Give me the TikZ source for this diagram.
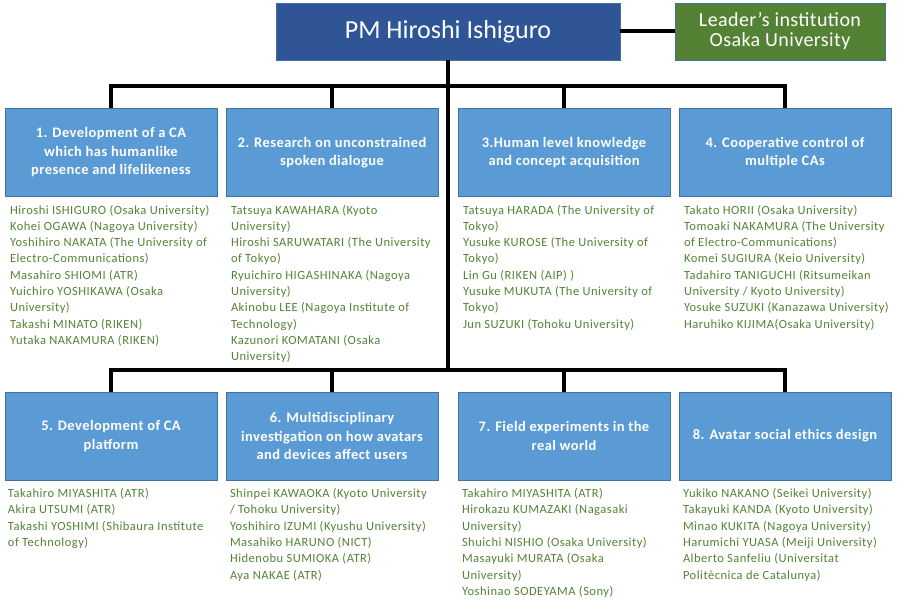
\documentclass[tikz,border=0pt]{standalone}
\usepackage{fontspec}
\setmainfont{Carlito}
\newfontfamily\memfont[LetterSpace=4]{Carlito}
\newfontfamily\grpfont[LetterSpace=3]{Carlito}
\newfontfamily\instfont[LetterSpace=2]{Carlito}
\usetikzlibrary{positioning}
\definecolor{pmclr}{RGB}{47,85,151}
\definecolor{instclr}{RGB}{84,130,53}
\definecolor{grpclr}{RGB}{91,155,213}
\definecolor{grpline}{RGB}{65,113,156}
\definecolor{memclr}{RGB}{84,130,53}
\tikzset{
  pm/.style={rectangle,draw=grpline,fill=pmclr,text=white,
             minimum width=344pt,minimum height=57pt,
             font=\fontsize{26}{28}\selectfont},
  inst/.style={rectangle,draw=grpline,fill=instclr,text=white,align=center,
               minimum width=210pt,minimum height=57pt,inner sep=1pt,
               font=\instfont\fontsize{20}{20}\selectfont},
  grp/.style={rectangle,draw=grpline,fill=grpclr,text=white,align=center,
              minimum width=212pt,minimum height=88pt,inner sep=1pt,
              font=\grpfont\bfseries\fontsize{14.5}{18.5}\selectfont},
  mem/.style={align=left,text=memclr,inner sep=0pt,
              font=\memfont\fontsize{12.5}{16.3}\selectfont},
  link/.style={line width=4pt,black},
}

\begin{document}
\begin{tikzpicture}[x=1pt, y=-1pt]
\useasboundingbox (0,0) rectangle (900,609);

% Head and institution
\node[pm]   (pm)   at (448,31.5) {PM Hiroshi Ishiguro};
\node[inst] (inst) at (780,31.5) {Leader’s institution\\Osaka University};

% Research groups, upper row
\node[grp] (g1) at (111,152.5) {1. Development of a CA\\which has humanlike\\presence and lifelikeness};
\node[grp] (g2) at (332,152.5) {2. Research on unconstrained\\spoken dialogue};
\node[grp] (g3) at (564,152.5) {3.Human level knowledge\\and concept acquisition};
\node[grp] (g4) at (785,152.5) {4. Cooperative control of\\multiple CAs};

% Research groups, lower row
\node[grp] (g5) at (111,436) {5. Development of CA\\platform};
\node[grp] (g6) at (332,436) {6. Multidisciplinary\\investigation on how avatars\\and devices affect users};
\node[grp] (g7) at (564,436) {7. Field experiments in the\\real world};
\node[grp] (g8) at (785,436) {8. Avatar social ethics design};

% Members
\node[mem, below right=8pt and 5pt of g1.south west] (m1) {Hiroshi ISHIGURO (Osaka University)\\Kohei OGAWA (Nagoya University)\\Yoshihiro NAKATA (The University of\\Electro-Communications)\\Masahiro SHIOMI (ATR)\\Yuichiro YOSHIKAWA (Osaka\\University)\\Takashi MINATO (RIKEN)\\Yutaka NAKAMURA (RIKEN)};
\node[mem, below right=8pt and 5pt of g2.south west] (m2) {Tatsuya KAWAHARA (Kyoto\\University)\\Hiroshi SARUWATARI (The University\\of Tokyo)\\Ryuichiro HIGASHINAKA (Nagoya\\University)\\Akinobu LEE (Nagoya Institute of\\Technology)\\Kazunori KOMATANI (Osaka\\University)};
\node[mem, below right=8pt and 5pt of g3.south west] (m3) {Tatsuya HARADA (The University of\\Tokyo)\\Yusuke KUROSE (The University of\\Tokyo)\\Lin Gu (RIKEN (AIP) )\\Yusuke MUKUTA (The University of\\Tokyo)\\Jun SUZUKI (Tohoku University)};
\node[mem, below right=8pt and 5pt of g4.south west] (m4) {Takato HORII (Osaka University)\\Tomoaki NAKAMURA (The University\\of Electro-Communications)\\Komei SUGIURA (Keio University)\\Tadahiro TANIGUCHI (Ritsumeikan\\University / Kyoto University)\\Yosuke SUZUKI (Kanazawa University)\\Haruhiko KIJIMA(Osaka University)};
\node[mem, below right=8pt and 3pt of g5.south west] (m5) {Takahiro MIYASHITA (ATR)\\Akira UTSUMI (ATR)\\Takashi YOSHIMI (Shibaura Institute\\of Technology)};
\node[mem, below right=8pt and 4pt of g6.south west] (m6) {Shinpei KAWAOKA (Kyoto University\\/ Tohoku University)\\Yoshihiro IZUMI (Kyushu University)\\Masahiko HARUNO (NICT)\\Hidenobu SUMIOKA (ATR)\\Aya NAKAE (ATR)};
\node[mem, below right=8pt and 4pt of g7.south west] (m7) {Takahiro MIYASHITA (ATR)\\Hirokazu KUMAZAKI (Nagasaki\\University)\\Shuichi NISHIO (Osaka University)\\Masayuki MURATA (Osaka\\University)\\Yoshinao SODEYAMA (Sony)};
\node[mem, below right=8pt and 4pt of g8.south west] (m8) {Yukiko NAKANO (Seikei University)\\Takayuki KANDA (Kyoto University)\\Minao KUKITA (Nagoya University)\\Harumichi YUASA (Meiji University)\\Alberto Sanfeliu (Universitat\\Politècnica de Catalunya)};

% Connectors
\coordinate (topbar) at (448,86);
\coordinate (lowbar) at (448,370);
\draw[link] (pm.east) -- (inst.west);
\draw[link] (pm.south) -- (lowbar);
\draw[link] (g1.north) |- (topbar) -| (g4.north);
\draw[link] (g2.north) -- (g2.north |- topbar);
\draw[link] (g3.north) -- (g3.north |- topbar);
\draw[link] (g5.north) |- (lowbar) -| (g8.north);
\draw[link] (g6.north) -- (g6.north |- lowbar);
\draw[link] (g7.north) -- (g7.north |- lowbar);
\end{tikzpicture}
\end{document}
